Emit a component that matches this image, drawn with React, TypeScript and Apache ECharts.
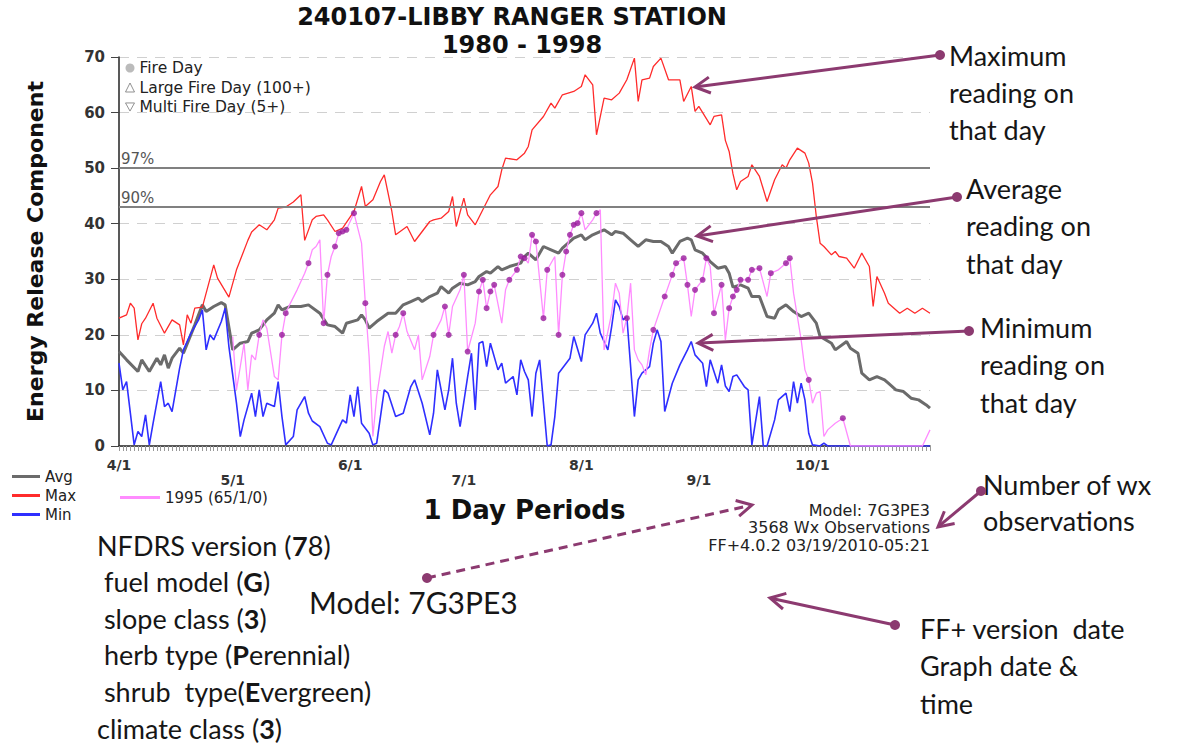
import React, { useEffect, useRef } from "react";
import * as echarts from "echarts";

const chartFont = '"DejaVu Sans", Verdana, sans-serif';
const noteFont = 'Lato, "Open Sans", sans-serif';

const titleLines = ["240107-LIBBY RANGER STATION", "1980 - 1998"];
const monthDays = [0, 30, 61, 91, 122, 153, 183];
const monthLabels = ["4/1", "5/1", "6/1", "7/1", "8/1", "9/1", "10/1"];
const lastDay = 214;
const yMin = 0;
const yMax = 70;
const yStep = 10;
const percentileNames = ["97%", "90%"];
const percentileValues = [50, 43];

const maxPoints = [[0,23],[2,23.6],[3,25.7],[4,24.8],[5,19.1],[6,22],[7,23],[9,25.7],[10,23],[12,20.3],[14,22.7],[16,21.8],[17,18.2],[18,23.6],[19,22.1],[20,24.8],[22,25],[25,32.6],[26,30.2],[29,26.8],[31,31.7],[34,37],[35,38.5],[37,39.8],[39,38.9],[41,40.7],[42,42.8],[44,43],[46,43.9],[48,45.2],[49,37],[51,40.7],[52,41.3],[54,41.6],[55,40.7],[57,38.6],[59,39.2],[62,42.2],[64,46.7],[65,43.1],[67,44.3],[69,47.6],[70,48.8],[72,42.2],[73,38],[76,39.5],[78,36.8],[80,38.6],[82,40.4],[83,40.7],[85,41],[87,42.2],[88,44.9],[89,39.5],[91,44.6],[92,41.6],[94,39.8],[96,42.5],[98,45.2],[100,46.7],[101,49.7],[102,51.8],[105,51.5],[107,52.7],[108,53.9],[109,56.9],[112,59.3],[114,61.7],[115,60.8],[117,63.2],[120,63.8],[122,64.7],[123,66.8],[125,65],[126,56],[128,62.6],[130,62.3],[132,63.5],[134,65.9],[136,69.8],[137,62],[138,65.9],[140,66.2],[141,68.3],[143,69.8],[145,65.9],[148,65.9],[149,62],[151,64.7],[152,60.2],[153,61.1],[156,57.8],[157,59.3],[159,59.6],[160,55],[161,53],[162,49],[163,46.1],[164,47.6],[166,48.5],[167,50.6],[169,48.5],[171,44],[173,47.9],[175,50.6],[176,50],[177,51.5],[179,53.6],[181,52.7],[182,50.9],[183,47.3],[184,41.3],[185,36.5],[186,35.9],[188,34.4],[189,35],[190,34.1],[192,33.8],[194,32],[196,34.7],[198,32.3],[199,25.1],[200,30.5],[202,27.5],[203,25.7],[206,23.9],[208,24.8],[210,23.9],[212,24.8],[214,23.9]];

const avgPoints = [[0,17],[2,15.5],[5,13.4],[6,15.5],[8,13.4],[10,15.8],[11,14.6],[12,16.4],[13,14],[14,15.8],[16,17.6],[17,16.7],[20,21.8],[22,25.4],[23,24.2],[25,25.1],[27,25.8],[28,25.4],[30,17.3],[32,18.5],[34,18.8],[35,20.3],[37,20.9],[39,22.7],[41,23.9],[42,25.4],[43,24.5],[45,25.1],[48,25.1],[50,25.4],[53,23.9],[55,21.8],[57,21.5],[59,20.3],[60,22.1],[63,22.7],[64,23.6],[65,22.7],[66,21.2],[68,22.4],[71,23.9],[73,23.9],[75,25.4],[77,26],[79,26.6],[80,26],[82,26.9],[84,27.5],[85,28.7],[87,27.5],[88,28.4],[90,29.3],[92,29],[94,29.6],[95,30.5],[97,31.4],[98,31.1],[100,32.3],[101,31.7],[103,32.3],[106,32.9],[107,34.1],[108,34.7],[110,33.5],[112,35.9],[114,35.3],[116,34.7],[117,35.6],[120,37.4],[122,38],[123,37.1],[125,38],[128,38.9],[130,38],[131,38.6],[133,38.3],[135,37.1],[137,35.9],[139,37.1],[141,36.8],[143,36.8],[145,35.9],[146,34.7],[148,36.8],[150,37.4],[151,37.1],[152,35.3],[154,34.7],[156,33.2],[158,32],[160,32.3],[161,31.1],[162,28.6],[164,29],[166,28.4],[167,26.9],[169,26.9],[171,23.3],[173,23],[174,24.5],[176,25.4],[178,24.2],[180,23.3],[182,23.9],[184,22.1],[185,19.7],[188,18.5],[189,17.3],[192,18.8],[193,17.6],[195,16.7],[196,13.1],[198,11.9],[200,12.5],[202,11.9],[203,11.3],[205,10.1],[207,9.8],[209,8.6],[211,8.3],[213,7.4],[214,6.8]];

const minPoints = [[0,14.9],[1,10.1],[2,11.6],[3,5.9],[4,0.2],[5,2.6],[6,1.7],[7,5.6],[8,0.2],[9,4.1],[11,11.6],[12,7.1],[13,7.7],[14,6.2],[16,14],[17,17.3],[19,20.3],[21,22.7],[22,24.5],[23,17.3],[24,20],[25,19.1],[27,22.4],[28,24.8],[29,17.9],[31,7.7],[32,1.7],[33,4.7],[35,9.5],[36,5.3],[37,10.1],[38,5.3],[39,7.7],[41,7.1],[42,11.6],[43,5.3],[44,0.2],[46,1.7],[47,6.5],[49,8.9],[50,5.9],[51,4.5],[53,3.5],[55,0.5],[56,0.2],[59,4.7],[60,4.1],[61,9.2],[62,5.3],[63,10.7],[64,4.1],[66,2.3],[67,0.2],[68,0.5],[70,10.1],[71,9.5],[73,5.3],[75,5.9],[77,10.7],[78,11.9],[80,7.7],[82,2],[83,5.9],[84,13.7],[86,6.5],[87,10.1],[88,15.8],[89,7.7],[90,3.5],[92,12.5],[93,16.7],[94,6.5],[95,18.5],[96,18.8],[97,14.3],[98,18.5],[100,13.7],[101,14.9],[102,11.3],[104,12.5],[105,9.2],[106,15.5],[107,13.4],[108,11.9],[109,5.3],[110,13.1],[111,15.5],[113,0],[114,0.2],[115,5.3],[116,13.1],[119,15.8],[120,19.7],[122,15.2],[123,20],[125,22.1],[126,23.9],[127,20.3],[129,17.3],[130,21.5],[131,26.3],[132,25.1],[133,22.7],[134,23.3],[136,5.3],[137,11.9],[138,13.1],[140,14.3],[141,18.5],[142,20.9],[143,18.8],[144,6.2],[146,11.3],[148,14.6],[150,17.3],[151,18.8],[152,16.4],[154,14.9],[155,10.7],[156,15.5],[158,11.3],[159,14.6],[160,10.8],[161,9.8],[162,12.5],[163,12.8],[165,10.7],[166,10.1],[167,0.2],[169,8.9],[170,0],[171,0],[173,4.7],[174,8.3],[176,9.5],[177,6.2],[178,11.6],[179,7.7],[180,11.3],[181,8.3],[182,2.3],[183,0.2],[185,0],[186,0.5],[187,0],[214,0]];

const year1995Points = [[30,19.7],[31,10.1],[32,14.3],[33,18.5],[34,10.1],[35,16.4],[36,15.5],[37,20],[38,22.7],[39,21.2],[41,12.5],[42,11.9],[43,20],[44,23.9],[45,25.4],[47,28.1],[49,31.1],[50,32.9],[51,35.3],[52,35.9],[53,37.1],[54,22.1],[55,30.8],[56,34.1],[57,35.9],[58,38.3],[59,38.6],[60,38.9],[62,41.9],[64,36.5],[65,25.7],[66,16.1],[67,1.7],[68,9],[70,17.9],[71,20.6],[72,16.7],[73,20],[74,21.5],[75,23.9],[76,20.6],[78,17.3],[79,20],[80,11.9],[82,16.1],[83,20],[85,22.7],[86,25.1],[87,20],[88,25.1],[90,28.1],[91,30.8],[92,17],[94,22.1],[95,27.8],[96,29.9],[97,24.8],[98,27.8],[99,29],[101,22.1],[102,28.1],[103,29.9],[105,31.7],[106,34.1],[107,33.8],[108,32.9],[109,38],[110,36.8],[112,23],[113,31.7],[115,34.1],[116,20],[117,30.8],[118,35],[119,38],[120,39.8],[121,40.1],[122,41.9],[123,38.9],[125,40.7],[126,41.9],[127,42.5],[128,17.3],[130,23.9],[131,29.3],[132,27.5],[133,20.3],[134,23],[135,29.3],[136,17.3],[137,15.5],[138,14.6],[139,12.8],[140,17.3],[141,20.9],[144,26.9],[146,30.8],[147,32.9],[149,33.8],[150,29],[151,23.3],[152,28.1],[154,29.9],[155,33.8],[156,32.3],[157,23.9],[159,29],[160,19.1],[161,24.8],[162,26.9],[163,28.1],[164,29.9],[166,29.9],[167,31.7],[169,32],[171,26.9],[172,31.1],[174,31.7],[175,32.3],[176,32.9],[177,33.8],[178,27.5],[180,19.1],[181,13.7],[182,11.9],[183,7.7],[184,9.5],[185,9.8],[186,1.7],[187,2.9],[189,4.1],[191,5],[193,0],[212,0],[214,2.9]];

const fireDayPoints = [[37,20],[43,20],[44,23.9],[50,32.9],[54,22.1],[55,30.8],[57,35.9],[58,38.3],[59,38.6],[60,38.9],[62,41.9],[65,25.7],[73,20],[75,23.9],[83,20],[86,25.1],[87,20],[91,30.8],[92,17],[95,27.8],[96,29.9],[97,24.8],[98,27.8],[99,29],[103,29.9],[105,31.7],[106,34.1],[107,33.8],[109,38],[110,36.8],[112,23],[113,31.7],[116,20],[117,30.8],[118,35],[119,38],[120,39.8],[121,40.1],[122,41.9],[126,41.9],[134,23],[141,20.9],[144,26.9],[146,30.8],[147,32.9],[149,33.8],[150,29],[152,28.1],[154,29.9],[155,33.8],[157,23.9],[159,29],[161,24.8],[162,26.9],[163,28.1],[164,29.9],[166,29.9],[167,31.7],[169,32],[172,31.1],[176,32.9],[177,33.8],[182,11.9],[191,5]];

const footerLines = ["Model: 7G3PE3", "3568 Wx Observations", "FF+4.0.2 03/19/2010-05:21"];
const noteMax = ["Maximum", "reading on", "that day"];
const noteAvg = ["Average", "reading on", "that day"];
const noteMin = ["Minimum", "reading on", "that day"];
const noteWx = ["Number of wx", "observations"];
const noteFF = ["FF+ version  date", "Graph date &", "time"];
const modelLines = [
  "NFDRS version ({b|7}8)",
  " fuel model ({b|G})",
  " slope class ({b|3})",
  " herb type ({b|P}erennial)",
  " shrub  type({b|E}vergreen)",
  "climate class ({b|3})",
];

const plum = "#8c3a70";

function arrow(x1: number, y1: number, x2: number, y2: number, dashed = false) {
  const dx = x2 - x1, dy = y2 - y1;
  const len = Math.hypot(dx, dy);
  const ux = dx / len, uy = dy / len, nx = -uy, ny = ux;
  const back = 15, half = 8;
  return [
    { type: "line", shape: { x1, y1, x2: x2 - ux * 2, y2: y2 - uy * 2 }, style: { stroke: plum, lineWidth: 3, lineDash: dashed ? [9, 6] : null }, z: 100 },
    { type: "polyline", shape: { points: [[x2 - back * ux + half * nx, y2 - back * uy + half * ny], [x2, y2], [x2 - back * ux - half * nx, y2 - back * uy - half * ny]] }, style: { stroke: plum, lineWidth: 3, fill: null }, z: 100 },
    { type: "circle", shape: { cx: x1, cy: y1, r: 5 }, style: { fill: plum }, z: 100 },
  ];
}

function noteBlock(lines: string[], x: number, y: number, gap: number) {
  return lines.map((t, i) => ({
    type: "text",
    x,
    y: y + i * gap,
    z: 100,
    style: { text: t, fill: "#161616", fontFamily: noteFont, fontSize: 27, align: "left", verticalAlign: "middle" },
  }));
}

export default function App() {
  const ref = useRef<HTMLDivElement>(null);
  useEffect(() => {
    if (!ref.current) return;
    const chart = echarts.init(ref.current, null, { renderer: "svg" });
    const dayTicks = Array.from({ length: lastDay + 1 }, (_, i) => i);
    const upperDays = monthDays.filter((_, i) => i % 2 === 0);
    const lowerDays = monthDays.filter((_, i) => i % 2 === 1);
    const labelFor = (v: number) => {
      const i = monthDays.indexOf(Math.round(v));
      return i < 0 ? "" : monthLabels[i];
    };
    const labelStyle = { fontFamily: chartFont, fontWeight: "bold", fontSize: 14, color: "#333", formatter: labelFor };
    const titleStyle = { fontFamily: chartFont, fontWeight: "bold", fontSize: 24, color: "#111" };
    const option: any = {
      animation: false,
      backgroundColor: "#fff",
      title: [
        { text: titleLines[0], left: 512, top: 5, textAlign: "center", padding: 0, textStyle: titleStyle },
        { text: titleLines[1], left: 522, top: 33, textAlign: "center", padding: 0, textStyle: titleStyle },
      ],
      grid: { left: 119, top: 57, width: 811, height: 389, containLabel: false },
      legend: [
        {
          data: ["Avg", "Max", "Min"], orient: "vertical", left: 12, top: 469, padding: 0,
          icon: "rect", itemWidth: 28, itemHeight: 3, itemGap: 4, itemTextGap: 3, selectedMode: false,
          textStyle: { fontFamily: chartFont, fontSize: 15, color: "#222" },
        },
        {
          data: ["1995 (65/1/0)"], left: 120, top: 490, padding: 0,
          icon: "rect", itemWidth: 40, itemHeight: 3, itemTextGap: 3, selectedMode: false,
          textStyle: { fontFamily: chartFont, fontSize: 15, color: "#222" },
        },
        {
          data: [
            { name: "Fire Day", icon: "circle", itemStyle: { color: "#aaa" } },
            { name: "Large Fire Day (100+)", icon: "triangle", itemStyle: { color: "#fff", borderColor: "#777", borderWidth: 1 } },
            { name: "Multi Fire Day (5+)", icon: "path://M0,0L10,0L5,9Z", itemStyle: { color: "#fff", borderColor: "#777", borderWidth: 1 } },
          ],
          orient: "vertical", left: 125, top: 60, padding: 0, itemWidth: 9, itemHeight: 9, itemGap: 3.5, itemTextGap: 3,
          selectedMode: false, textStyle: { fontFamily: chartFont, fontSize: 15.5, color: "#222" },
        },
      ],
      xAxis: [
        {
          type: "value", min: 0, max: lastDay, position: "bottom",
          name: "1 Day Periods", nameLocation: "middle", nameGap: 51,
          nameTextStyle: { fontFamily: chartFont, fontWeight: "bold", fontSize: 26, color: "#111" },
          axisLine: { lineStyle: { color: "#222", width: 1.5 } },
          axisTick: { show: true, customValues: dayTicks, length: 5, lineStyle: { color: "#999", width: 1 } },
          axisLabel: { customValues: upperDays, margin: 12, ...labelStyle },
          splitLine: { show: false },
        },
        {
          type: "value", min: 0, max: lastDay, position: "bottom", gridIndex: 0,
          axisLine: { show: false }, axisTick: { show: false }, splitLine: { show: false },
          axisLabel: { customValues: lowerDays, margin: 27, ...labelStyle },
        },
      ],
      yAxis: {
        type: "value", min: yMin, max: yMax, interval: yStep,
        name: "Energy Release Component", nameLocation: "middle", nameGap: 73,
        nameTextStyle: { fontFamily: chartFont, fontWeight: "bold", fontSize: 22, color: "#111" },
        axisLine: { show: true, lineStyle: { color: "#222", width: 1.5 } },
        axisTick: { show: true, length: 8, lineStyle: { color: "#444" } },
        axisLabel: { margin: 14, fontFamily: chartFont, fontWeight: "bold", fontSize: 15, color: "#333" },
        splitLine: { show: true, lineStyle: { color: "#d0d0d0", type: [10, 8], width: 1.2 } },
      },
      series: [
        {
          name: "Avg", type: "line", data: avgPoints, symbol: "none", z: 3,
          lineStyle: { color: "#6b6b6b", width: 3 }, itemStyle: { color: "#6b6b6b" },
          markLine: {
            silent: true, symbol: "none",
            lineStyle: { color: "#808080", width: 2, type: "solid" },
            label: { show: true, position: "insideStartTop", formatter: "{b}", fontFamily: chartFont, fontSize: 15, color: "#555", distance: 2 },
            data: percentileValues.map((v, i) => ({ name: percentileNames[i], yAxis: v })),
          },
        },
        { name: "Max", type: "line", data: maxPoints, symbol: "none", z: 4, lineStyle: { color: "#ff2b2b", width: 1.3 }, itemStyle: { color: "#ff2b2b" } },
        { name: "Min", type: "line", data: minPoints, symbol: "none", z: 4, lineStyle: { color: "#2f2fff", width: 1.6 }, itemStyle: { color: "#2f2fff" } },
        { name: "1995 (65/1/0)", type: "line", data: year1995Points, symbol: "none", z: 5, lineStyle: { color: "#ff8cff", width: 1.3 }, itemStyle: { color: "#ff8cff" } },
        { name: "Fire Day", type: "scatter", data: fireDayPoints, symbol: "circle", symbolSize: 6, z: 6, itemStyle: { color: "#981a9c" } },
        { name: "Large Fire Day (100+)", type: "scatter", data: [], z: 6 },
        { name: "Multi Fire Day (5+)", type: "scatter", data: [], z: 6 },
      ],
      graphic: [
        ...footerLines.map((t, i) => ({
          type: "text", x: 930, y: 510 + i * 17.5, z: 50,
          style: { text: t, fill: "#222", fontFamily: chartFont, fontSize: 16, align: "right", verticalAlign: "middle" },
        })),
        ...noteBlock(noteMax, 949, 55, 37),
        ...noteBlock(noteAvg, 966, 188, 37.5),
        ...noteBlock(noteMin, 980, 327, 37.5),
        ...noteBlock(noteWx, 983, 484, 36),
        ...noteBlock(noteFF, 920, 628, 37.5),
        ...modelLines.map((t, i) => ({
          type: "text", x: 97, y: 545 + i * 36.6, z: 100,
          style: {
            text: t, fill: "#161616", fontFamily: noteFont, fontSize: 27, align: "left", verticalAlign: "middle",
            rich: { b: { fontFamily: noteFont, fontSize: 27, fontWeight: "bold", fill: "#161616" } },
          },
        })),
        {
          type: "text", x: 309, y: 602, z: 100,
          style: { text: footerLines[0], fill: "#161616", fontFamily: noteFont, fontSize: 30, align: "left", verticalAlign: "middle" },
        },
        ...arrow(940, 55, 695, 87),
        ...arrow(957, 197, 697, 236),
        ...arrow(969, 331, 698, 343),
        ...arrow(981, 491, 938, 527),
        ...arrow(427, 578, 752, 505, true),
        ...arrow(895, 625, 770, 598),
      ],
    };
    chart.setOption(option);
    return () => chart.dispose();
  }, []);
  return <div ref={ref} style={{ position: "absolute", left: 0, top: 0, width: 1186, height: 747 }} />;
}
